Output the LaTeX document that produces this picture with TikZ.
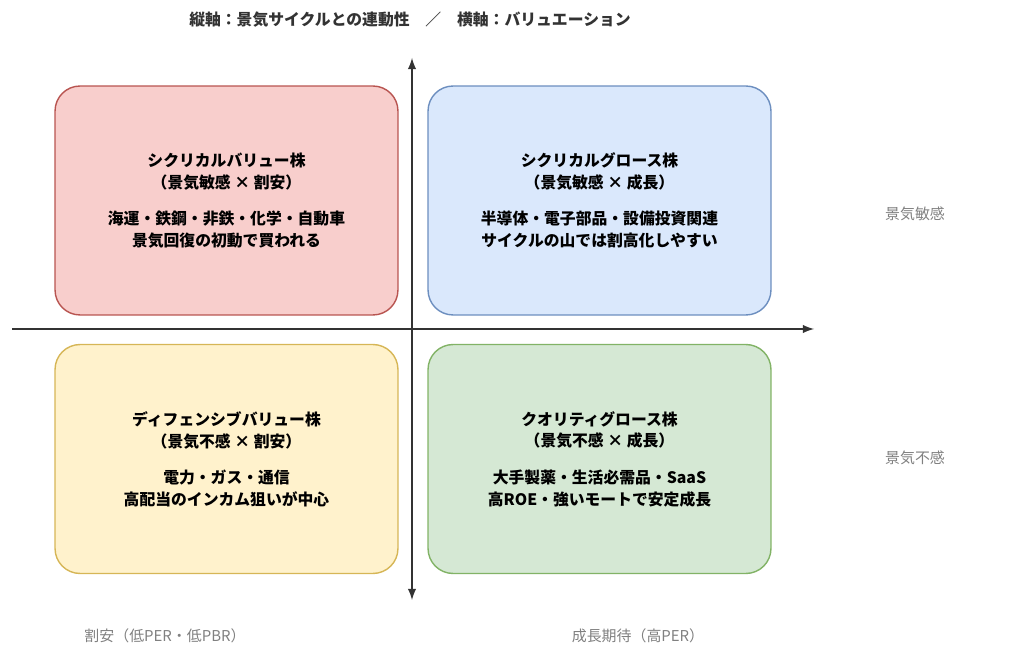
\documentclass[tikz,border=0pt]{standalone}
\usepackage{fontspec}
\newfontfamily\cjk{Noto Sans CJK JP}
\usetikzlibrary{positioning}
\definecolor{redfill}{HTML}{F8CECC}\definecolor{redline}{HTML}{B85450}
\definecolor{bluefill}{HTML}{DAE8FC}\definecolor{blueline}{HTML}{6C8EBF}
\definecolor{yelfill}{HTML}{FFF2CC}\definecolor{yelline}{HTML}{D6B656}
\definecolor{grnfill}{HTML}{D5E8D4}\definecolor{grnline}{HTML}{82B366}
\definecolor{axis}{HTML}{333333}
\tikzset{
  quad/.style={draw=#1line, fill=#1fill, rounded corners=0.5cm, line width=0.8pt,
    minimum width=6.86cm, minimum height=4.58cm, align=center,
    font=\cjk\bfseries\fontsize{9}{12.5}\selectfont, text=black},
  note/.style={text=gray, font=\cjk\itshape\fontsize{8.5}{10}\selectfont},
  arr/.style={-latex, line width=1.2pt, draw=axis}
}
\begin{document}
\begin{tikzpicture}[x=0.02cm,y=-0.02cm]
        \useasboundingbox (0,0) rectangle (1024,661);
        % Title
        \node[font=\cjk\bfseries\fontsize{9}{10}\selectfont, text=axis] (title) at (410,20)
          {縦軸：景気サイクルとの連動性\quad／\quad 横軸：バリュエーション};

        % Quadrants
        \node[quad=red] (cycval) at (226.5,200.5)
          {シクリカルバリュー株\\（景気敏感 × 割安）\\[0.9em]海運・鉄鋼・非鉄・化学・自動車\\景気回復の初動で買われる};
        \node[quad=blue] (cycgro) at (599.5,200.5)
          {シクリカルグロース株\\（景気敏感 × 成長）\\[0.9em]半導体・電子部品・設備投資関連\\サイクルの山では割高化しやすい};
        \node[quad=yel] (defval) at (226.5,459)
          {ディフェンシブバリュー株\\（景気不感 × 割安）\\[0.9em]電力・ガス・通信\\高配当のインカム狙いが中心};
        \node[quad=grn] (qualgro) at (599.5,459)
          {クオリティグロース株\\（景気不感 × 成長）\\[0.9em]大手製薬・生活必需品・SaaS\\高ROE・強いモートで安定成長};

        % Axes
        \coordinate (ytop) at (412,58);
        \coordinate (ybot) at (412,600);
        \coordinate (xleft) at (12,329);
        \coordinate (xright) at (814,329);
        \draw[arr, latex-latex] (ybot) -- (ytop);
        \draw[arr] (xleft) -- (xright);

        % Axis notes
        \node[note] (sens) at (915,214) {景気敏感};
        \node[note] (insens) at (915,458) {景気不感};
        \node[note] (cheap) at (165,636) {割安（低PER・低PBR）};
        \node[note] (growth) at (638,636) {成長期待（高PER）};
\end{tikzpicture}
\end{document}
